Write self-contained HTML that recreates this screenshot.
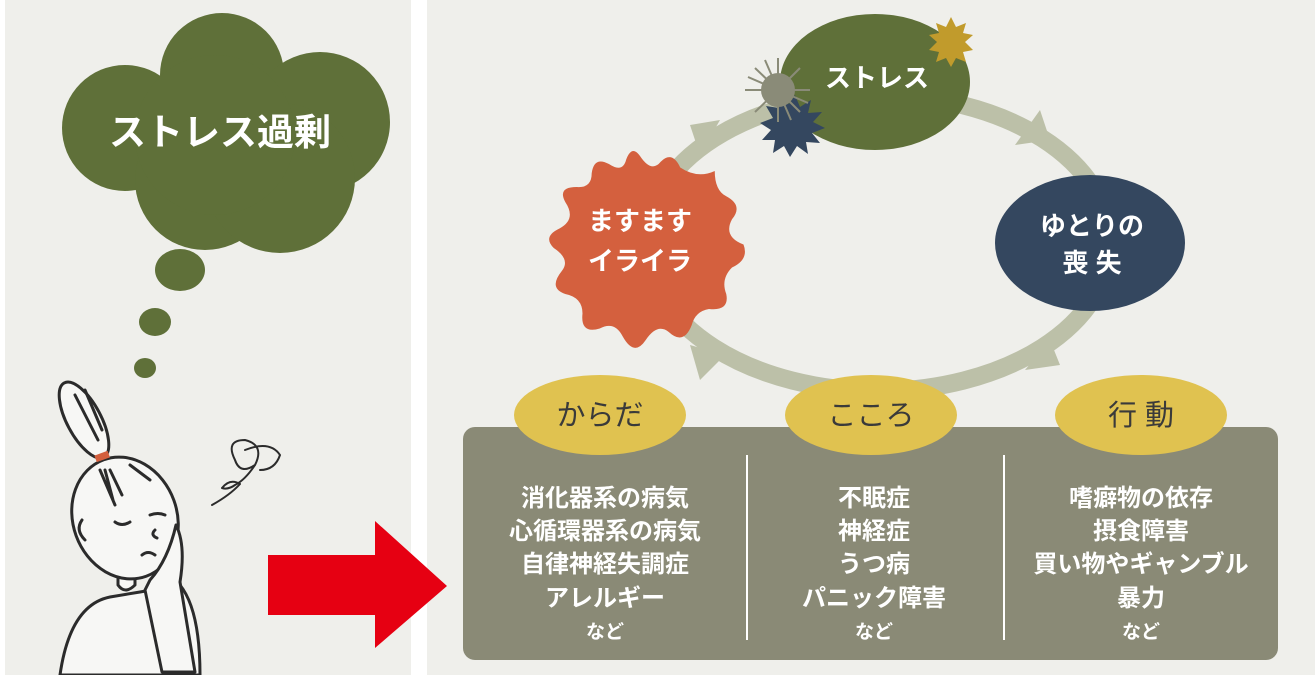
<!DOCTYPE html>
<html><head><meta charset="utf-8"><style>
html,body{margin:0;padding:0;background:#fff;}
svg text{font-family:"Liberation Sans","Noto Sans CJK JP",sans-serif;font-weight:bold;}
</style></head><body>
<svg width="1315" height="675" viewBox="0 0 1315 675" xmlns="http://www.w3.org/2000/svg">
<rect x="5" y="0" width="406" height="675" fill="#efefeb"/>
<rect x="427" y="0" width="888" height="675" fill="#efefeb"/>
<!-- cloud -->
<g fill="#5f7039">
<circle cx="222" cy="75" r="62"/>
<circle cx="125" cy="128" r="63"/>
<circle cx="320" cy="122" r="70"/>
<circle cx="205" cy="180" r="70"/>
<circle cx="280" cy="178" r="75"/>
<circle cx="215" cy="135" r="80"/>
<ellipse cx="180" cy="270" rx="25" ry="21"/>
<ellipse cx="155" cy="322" rx="16" ry="14"/>
<ellipse cx="145" cy="368" rx="11" ry="10"/>
</g>
<text x="220" y="145" font-size="37" fill="#fff" text-anchor="middle">ストレス過剰</text>
<!-- girl -->
<g fill="#f7f7f5" stroke="#2b2b2b" stroke-width="3" stroke-linecap="round" stroke-linejoin="round">
<path d="M60 675 Q70 605 110 597 L140 592 L180 585 Q200 610 200 675 Z"/>
<path d="M118 585 L118 560 L135 560 L135 585 Q125 595 118 585 Z"/>
<ellipse cx="84" cy="420" rx="17" ry="42" transform="rotate(-28 84 420)"/>
<ellipse cx="125" cy="518" rx="52" ry="62" transform="rotate(-20 125 518)"/>
<path d="M145 590 L162 672 L195 672 L180 582 Q186 545 176 525 Q168 560 150 580 Z"/>
<path d="M82 520 Q75 530 85 540" fill="none"/>
<path d="M115 522 Q122 527 130 522 M150 515 Q158 512 165 515 M142 555 Q148 550 155 555 M155 530 Q150 535 157 538" fill="none"/>
<path d="M100 470 L115 505 M105 470 L113 500 M110 470 L122 495 M130 465 L150 480" fill="none"/>
<path d="M75 395 L98 440 M85 390 L102 430" fill="none"/>
<path d="M235 460 Q225 440 245 440 Q265 445 255 465 Q240 475 235 460 M245 450 Q270 440 280 455 Q275 470 260 470 M255 465 Q245 480 235 485 Q228 490 222 488 Q230 478 240 484 Q230 495 212 505" fill="none" stroke-width="2"/>
</g>
<rect x="95" y="453" width="14" height="7" fill="#d35f3d" transform="rotate(-20 102 456)"/>
<!-- red arrow -->
<polygon points="268,555 375,555 375,521 447,586 375,648 375,615 268,615" fill="#e60012"/>
<!-- cycle -->
<ellipse cx="878" cy="243" rx="232" ry="148" fill="none" stroke="#bcc0a8" stroke-width="18"/>
<g fill="#bcc0a8">
<polygon points="1040,110 1015,145 1050,140"/>
<polygon points="1050,340 1025,370 1060,365"/>
<polygon points="690,345 700,380 725,355"/>
<polygon points="690,125 720,120 700,155"/>
</g>
<ellipse cx="875" cy="82" rx="95" ry="68" fill="#5f7039"/>
<text x="877" y="87" font-size="26" fill="#fff" text-anchor="middle">ストレス</text>
<ellipse cx="1090" cy="243" rx="95" ry="68" fill="#34475f"/>
<text x="1092" y="235" font-size="26" fill="#fff" text-anchor="middle">ゆとりの</text>
<text x="1092" y="272" font-size="26" fill="#fff" text-anchor="middle">喪 失</text>
<!-- bursts -->
<polygon points="951,17 956,27 966,23 963,33 973,35 965,42 973,50 963,52 966,62 956,58 951,67 946,58 936,62 939,52 929,50 937,42 929,35 939,33 936,23 946,27" fill="#c19b2c"/>
<polygon points="795,95 800,107 811,100 808,113 822,112 813,122 825,128 812,133 820,143 806,142 808,154 797,146 790,157 784,146 773,153 775,140 762,140 771,130 760,123 773,118 766,106 779,108 780,96 789,104" fill="#34475f"/>
<g stroke="#8a8b78" stroke-width="2">
<line x1="778" y1="90" x2="745" y2="90"/><line x1="778" y1="90" x2="810" y2="90"/>
<line x1="778" y1="90" x2="778" y2="58"/><line x1="778" y1="90" x2="778" y2="122"/>
<line x1="778" y1="90" x2="755" y2="68"/><line x1="778" y1="90" x2="800" y2="112"/>
<line x1="778" y1="90" x2="800" y2="68"/><line x1="778" y1="90" x2="755" y2="112"/>
<line x1="778" y1="90" x2="748" y2="77"/><line x1="778" y1="90" x2="808" y2="103"/>
<line x1="778" y1="90" x2="765" y2="60"/><line x1="778" y1="90" x2="791" y2="120"/>
</g>
<circle cx="778" cy="90" r="17" fill="#8a8b78"/>
<g transform="translate(640 248) scale(1.15) translate(-640 -245)">
<path d="M640 165 Q650 180 658 170 Q668 160 675 175 Q690 185 705 178 Q705 195 715 200 Q730 208 720 220 Q712 235 730 242 Q735 255 720 262 Q710 272 715 285 Q718 300 700 298 Q688 300 685 312 Q678 330 665 318 Q655 310 645 325 Q635 340 625 322 Q618 308 605 315 Q588 320 590 302 Q590 288 575 285 Q560 280 572 265 Q580 255 565 245 Q555 235 570 228 Q585 220 575 205 Q568 192 585 192 Q598 193 598 180 Q600 165 613 172 Q625 180 628 168 Q633 155 640 165 Z" fill="#d4603e"/>
</g>
<text x="640" y="230" font-size="26" fill="#fff" text-anchor="middle">ますます</text>
<text x="640" y="270" font-size="26" fill="#fff" text-anchor="middle">イライラ</text>
<!-- box -->
<rect x="463" y="427" width="815" height="233" rx="12" fill="#8a8a76"/>
<line x1="747" y1="455" x2="747" y2="640" stroke="#fff" stroke-width="2"/>
<line x1="1004" y1="455" x2="1004" y2="640" stroke="#fff" stroke-width="2"/>
<g fill="#e0c250">
<ellipse cx="600" cy="415" rx="86" ry="40"/>
<ellipse cx="871" cy="415" rx="86" ry="40"/>
<ellipse cx="1141" cy="415" rx="86" ry="40"/>
</g>
<g font-size="29" fill="#3a3a3a" text-anchor="middle">
<text x="600" y="425" style="font-weight:normal">からだ</text>
<text x="871" y="425" style="font-weight:normal">こころ</text>
<text x="1141" y="425" style="font-weight:normal">行 動</text>
</g>
<g font-size="24" fill="#fff" text-anchor="middle">
<text x="605" y="506">消化器系の病気</text>
<text x="605" y="539">心循環器系の病気</text>
<text x="605" y="572">自律神経失調症</text>
<text x="605" y="606">アレルギー</text>
<text x="605" y="638" font-size="19">など</text>
<text x="874" y="506">不眠症</text>
<text x="874" y="539">神経症</text>
<text x="874" y="572">うつ病</text>
<text x="874" y="606">パニック障害</text>
<text x="874" y="638" font-size="19">など</text>
<text x="1141" y="506">嗜癖物の依存</text>
<text x="1141" y="539">摂食障害</text>
<text x="1141" y="572">買い物やギャンブル</text>
<text x="1141" y="606">暴力</text>
<text x="1141" y="638" font-size="19">など</text>
</g>
</svg>
</body></html>
